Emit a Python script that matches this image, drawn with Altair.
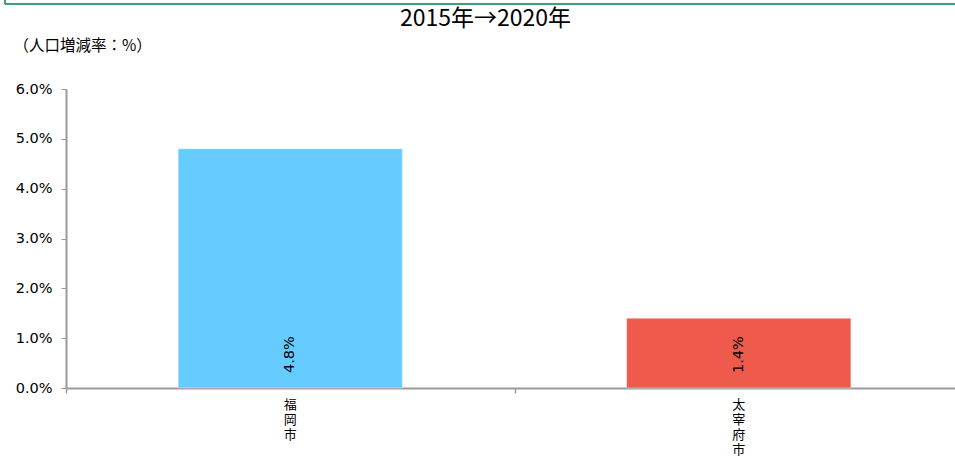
import altair as alt
import pandas as pd

# Population change rate, 2015 -> 2020
cities = ["福岡市", "太宰府市"]
rates = [0.048, 0.014]
bar_colors = ["#66CCFF", "#EE5B4D"]
y_ticks = [0.0, 0.01, 0.02, 0.03, 0.04, 0.05, 0.06]

df = pd.DataFrame({"city": cities, "rate": rates})

JP_FONT = "Noto Sans CJK JP"
NUM_FONT = "DejaVu Sans"
AXIS_GREY = "#9a9a9a"

# category bands span a little past the right edge of the view
X_RANGE = [0, 897]

y_enc = alt.Y(
    "rate:Q",
    scale=alt.Scale(domain=[0, 0.06], nice=False),
    axis=alt.Axis(
        values=y_ticks,
        format=".1%",
        title="（人口増減率：%）",
        titleFont=JP_FONT,
        titleFontSize=15.5,
        titleFontWeight="normal",
        titleColor="#000000",
        titleAngle=0,
        titleAlign="left",
        titleBaseline="middle",
        titleX=-53,
        titleY=-44,
        labelFont=NUM_FONT,
        labelFontSize=14.5,
        labelColor="#000000",
        labelPadding=9,
        tickSize=5,
        tickColor=AXIS_GREY,
        domainColor=AXIS_GREY,
        domainWidth=2,
        grid=False,
    ),
)

x_main = alt.X(
    "city:N",
    sort=cities,
    title=None,
    scale=alt.Scale(range=X_RANGE, paddingInner=0.5, paddingOuter=0.25),
    axis=alt.Axis(
        labelAngle=0,
        labelExpr="split(datum.label, '')",
        labelFont=JP_FONT,
        labelFontSize=13,
        labelLineHeight=15,
        labelColor="#000000",
        labelPadding=10,
        labelBaseline="top",
        ticks=False,
        domainColor=AXIS_GREY,
        domainWidth=2,
    ),
)

bars = alt.Chart(df).mark_bar(stroke="#ffffff", strokeOpacity=0.4, strokeWidth=1).encode(
    x=x_main,
    y=y_enc,
    color=alt.Color("city:N", scale=alt.Scale(domain=cities, range=bar_colors), legend=None),
)

labels = alt.Chart(df).transform_calculate(base="0").mark_text(
    angle=270, align="left", baseline="middle", dx=15,
    font=NUM_FONT, fontSize=14.5, color="#000000",
).encode(
    x=alt.X("city:N", sort=cities),
    y=alt.Y("base:Q"),
    text=alt.Text("rate:Q", format=".1%"),
)

# green frame edge along the top of the figure
frame_top = alt.Chart(df).mark_rule(color="#3E9E78", strokeWidth=2).encode(
    x=alt.value(-61), x2=alt.value(900), y=alt.value(-85)
)
frame_left = alt.Chart(df).mark_rule(color="#3E9E78", strokeWidth=2).encode(
    x=alt.value(-61), y=alt.value(-89), y2=alt.value(-85)
)

main = alt.layer(bars, labels, frame_top, frame_left)

# tick marks between categories: a second band scale without padding,
# whose band edges fall halfway between the bars
separators = alt.Chart(df).mark_point(opacity=0).encode(
    x=alt.X(
        "city:N",
        sort=cities,
        title=None,
        scale=alt.Scale(range=X_RANGE, paddingInner=0, paddingOuter=0),
        axis=alt.Axis(
            orient="bottom",
            labels=False,
            domain=False,
            tickBand="extent",
            tickSize=5,
            tickWidth=1.5,
            tickColor=AXIS_GREY,
        ),
    ),
    y=alt.Y("rate:Q"),
)

chart = alt.layer(main, separators).resolve_scale(
    x="independent"
).resolve_axis(x="independent").properties(
    width=889,
    height=299,
    title=alt.Title(
        "2015年→2020年",
        font=JP_FONT,
        fontSize=23,
        fontWeight="normal",
        color="#000000",
        anchor="middle",
        dx=-25,
        dy=40,
        offset=8,
    ),
    autosize=alt.AutoSizeParams(type="none"),
    padding={"left": 66, "top": 89, "right": 0, "bottom": 73},
).configure_view(stroke=None)

chart.save("out.html", embed_options={"renderer": "svg", "actions": False})
